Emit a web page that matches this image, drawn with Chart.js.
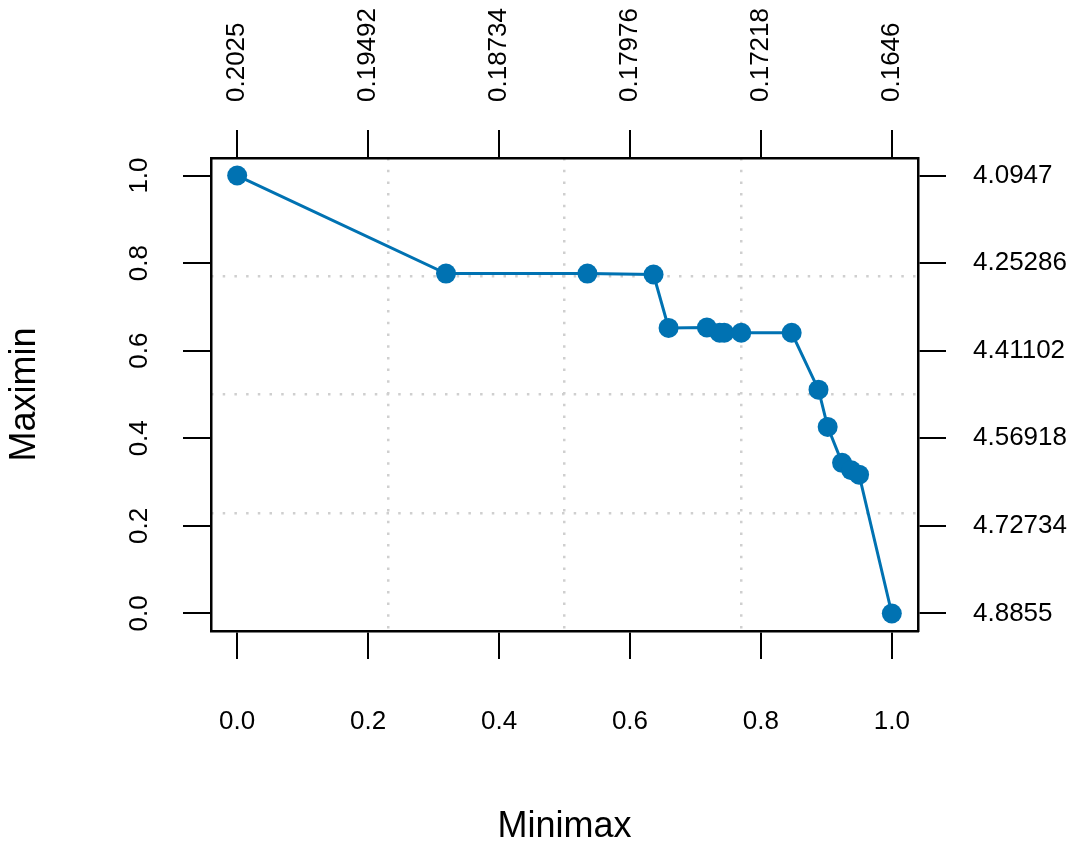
<!DOCTYPE html>
<html>
<head>
<meta charset="utf-8">
<script src="https://cdn.jsdelivr.net/npm/chart.js@4.4.1/dist/chart.umd.min.js"></script>
<style>
html,body{margin:0;padding:0;background:#fff;}
#wrap{width:1073px;height:842px;position:relative;}
</style>
</head>
<body>
<div id="wrap"><canvas id="c"></canvas></div>
<script>
// ---- data ----
const minimax = [0.000, 0.319, 0.535, 0.636, 0.659, 0.7175, 0.737, 0.744, 0.770, 0.847, 0.888, 0.902, 0.924, 0.938, 0.950, 1.000];
const maximin = [1.000, 0.776, 0.776, 0.774, 0.652, 0.653, 0.641, 0.641, 0.641, 0.641, 0.511, 0.426, 0.344, 0.327, 0.317, 0.000];

const xTicks = [0, 0.2, 0.4, 0.6, 0.8, 1.0];
const xTickLabels = ['0.0', '0.2', '0.4', '0.6', '0.8', '1.0'];
const topTickLabels = ['0.2025', '0.19492', '0.18734', '0.17976', '0.17218', '0.1646'];
const yTicks = [0, 0.2, 0.4, 0.6, 0.8, 1.0];
const yTickLabels = ['0.0', '0.2', '0.4', '0.6', '0.8', '1.0'];
const rightTickLabels = ['4.8855', '4.72734', '4.56918', '4.41102', '4.25286', '4.0947'];
const xTitle = 'Minimax';
const yTitle = 'Maximin';
const axisMin = -0.04, axisMax = 1.04;

// ---- styling ----
const FONT = "'Liberation Sans', Arial, Helvetica, sans-serif";
const tickFont = {family: FONT, size: 26};
const titleFont = {family: FONT, size: 36};
const LINE = '#0072B2';

function fixTicks(vals) { return s => { s.ticks = vals.map(v => ({value: v})); }; }
function quarterTicks(s) { s.ticks = [1, 2, 3].map(k => ({value: s.min + (s.max - s.min) * k / 4})); }

const tickGrid = {display: true, drawOnChartArea: false, drawTicks: true, tickLength: 28,
                  tickColor: '#000', tickWidth: 2, color: '#000', lineWidth: 2};
const frame = {display: true, color: '#000', width: 2.5};
const dotGrid = {display: true, drawOnChartArea: true, drawTicks: false, color: '#cfcfcf', lineWidth: 2.5};

new Chart(document.getElementById('c'), {
  type: 'scatter',
  data: {
    datasets: [{
      data: minimax.map((x, i) => ({x: x, y: maximin[i]})),
      xAxisID: 'x', yAxisID: 'y',
      showLine: true,
      borderColor: LINE, borderWidth: 3,
      backgroundColor: LINE,
      pointRadius: 10, pointHoverRadius: 10,
      pointBackgroundColor: LINE, pointBorderColor: LINE, pointBorderWidth: 0,
      tension: 0, fill: false
    }]
  },
  options: {
    responsive: true, maintainAspectRatio: false, animation: false, events: [],
    layout: {padding: 0},
    plugins: {legend: {display: false}, tooltip: {enabled: false}},
    scales: {
      x: {
        type: 'linear', position: 'bottom', display: true, min: axisMin, max: axisMax,
        afterBuildTicks: fixTicks(xTicks), afterFit: s => { s.height = 211; },
        ticks: {callback: (v, i) => xTickLabels[i], font: tickFont, color: '#000', padding: 47,
                minRotation: 0, maxRotation: 0, autoSkip: false},
        grid: tickGrid, border: frame,
        title: {display: true, text: xTitle, font: titleFont, color: '#000', padding: {top: 0, bottom: -7}}
      },
      x2: {
        type: 'linear', position: 'top', display: true, min: axisMin, max: axisMax,
        afterBuildTicks: fixTicks(xTicks), afterFit: s => { s.height = 158; },
        ticks: {callback: (v, i) => topTickLabels[i], font: tickFont, color: '#000', padding: 28,
                labelOffset: 31, minRotation: 90, maxRotation: 90, autoSkip: false},
        grid: tickGrid, border: frame
      },
      y: {
        type: 'linear', position: 'left', display: true, min: axisMin, max: axisMax,
        afterBuildTicks: fixTicks(yTicks), afterFit: s => { s.width = 211; },
        ticks: {callback: (v, i) => yTickLabels[i], font: tickFont, color: '#000', padding: 25,
                minRotation: 90, maxRotation: 90, crossAlign: 'center', autoSkip: false},
        grid: tickGrid, border: frame,
        title: {display: true, text: yTitle, font: titleFont, color: '#000', padding: {top: 3, bottom: 0}}
      },
      y2: {
        type: 'linear', position: 'right', display: true, min: axisMin, max: axisMax,
        afterBuildTicks: fixTicks(yTicks), afterFit: s => { s.width = 155; },
        ticks: {callback: (v, i) => rightTickLabels[i], font: tickFont, color: '#000', padding: 27,
                crossAlign: 'near', autoSkip: false},
        grid: tickGrid, border: frame
      },
      gx: {
        type: 'linear', axis: 'x', position: 'bottom', display: true, min: axisMin, max: axisMax,
        afterBuildTicks: quarterTicks, afterFit: s => { s.height = 0; },
        ticks: {display: false}, grid: dotGrid,
        border: {display: false, dash: [2.5, 9.2]}
      },
      gy: {
        type: 'linear', axis: 'y', position: 'left', display: true, min: axisMin, max: axisMax,
        afterBuildTicks: quarterTicks, afterFit: s => { s.width = 0; },
        ticks: {display: false}, grid: dotGrid,
        border: {display: false, dash: [2.5, 9.2]}
      }
    }
  }
});
</script>
</body>
</html>
